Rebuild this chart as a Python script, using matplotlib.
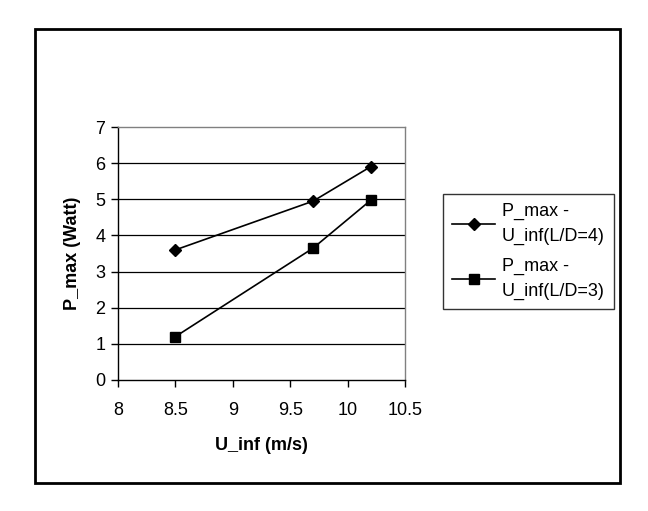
import matplotlib.pyplot as plt
from matplotlib.patches import Rectangle

plt.rcParams['font.family'] = ['Liberation Sans', 'DejaVu Sans']

u_inf = [8.5, 9.7, 10.2]
p_max_ld4 = [3.6, 4.95, 5.9]
p_max_ld3 = [1.2, 3.65, 4.97]
labels = ['P_max -\nU_inf(L/D=4)', 'P_max -\nU_inf(L/D=3)']
xticks = [8, 8.5, 9, 9.5, 10, 10.5]
yticks = [0, 1, 2, 3, 4, 5, 6, 7]

W, H = 648, 511
fig = plt.figure(figsize=(W / 100, H / 100), dpi=100)
ax = fig.add_axes([118 / W, 1 - 380 / H, (405 - 118) / W, (380 - 127) / H])

# outer chart border
fig.patches.append(Rectangle((35 / W, 1 - 483 / H), (620 - 35) / W, (483 - 29) / H,
                             transform=fig.transFigure, fill=False,
                             edgecolor='black', linewidth=2))

for y in yticks[1:-1]:
    ax.axhline(y, color='black', linewidth=0.9, zorder=1)

ax.plot(u_inf, p_max_ld4, color='black', marker='D', markersize=6,
        linewidth=1.2, label=labels[0], zorder=3)
ax.plot(u_inf, p_max_ld3, color='black', marker='s', markersize=7,
        linewidth=1.2, label=labels[1], zorder=3)

ax.set_xlim(8, 10.5)
ax.set_ylim(0, 7)
ax.set_xticks(xticks)
ax.set_xticklabels(['8', '8.5', '9', '9.5', '10', '10.5'])
ax.set_yticks(yticks)
ax.tick_params(direction='out', length=5, width=1, labelsize=13, pad=4)
ax.tick_params(axis='x', pad=11)

ax.spines['left'].set_color('black')
ax.spines['bottom'].set_color('black')
ax.spines['top'].set_color('#808080')
ax.spines['right'].set_color('#808080')
for s in ax.spines.values():
    s.set_linewidth(1)

ax.set_xlabel('U_inf (m/s)', fontsize=13, fontweight='bold', labelpad=13)
ax.set_ylabel('P_max (Watt)', fontsize=13, fontweight='bold', labelpad=10)

leg = ax.legend(loc='upper left', bbox_to_anchor=(443 / W, 1 - 194 / H),
                bbox_transform=fig.transFigure, fontsize=13, frameon=True,
                fancybox=False, edgecolor='black', handlelength=2.4,
                handletextpad=0.35, borderpad=0.5, labelspacing=0.75,
                borderaxespad=0)
leg.get_frame().set_linewidth(1)
for t in leg.get_texts():
    t.set_linespacing(1.55)

fig.savefig('out.png', dpi=100)
